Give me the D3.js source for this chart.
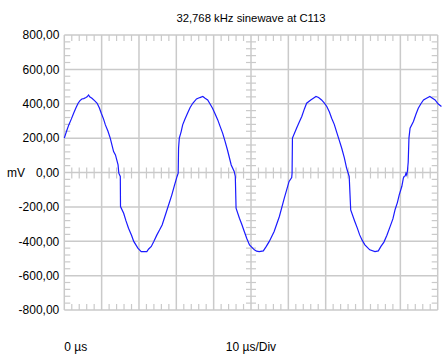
<!DOCTYPE html>
<html>
<head>
<meta charset="utf-8">
<script src="https://cdn.jsdelivr.net/npm/d3@7"></script>
<style>
  body { margin:0; background:#fff; }
  svg text { font-family: "Liberation Sans", Arial, sans-serif; font-size:12px; fill:#000; }
</style>
</head>
<body>
<div id="chart-area"></div>
<script>
// scope trace (time in µs, voltage in mV)
var timeUs = [0,0.6,1.2,1.9,2.5,3.1,3.7,4.2,4.7,5.2,5.8,6.1,6.5,6.8,7.4,8.1,8.8,9.4,9.9,10.5,11,11.7,12.3,13.2,13.7,14.4,14.6,15.0,15.05,15.9,16.5,17.2,18.0,18.6,19.7,20.6,22.1,22.6,23.3,24.0,24.8,25.5,26.2,27.5,28.8,29.5,30.2,30.5,30.6,30.8,31.3,31.7,32.3,33.0,33.7,34.4,35.4,36.3,37.1,37.7,38.4,39.0,39.7,40.4,41.1,41.7,42.4,43.0,43.7,44.7,45.5,45.8,46.0,46.9,47.5,48.2,48.9,49.6,50.9,51.5,52.2,53.3,54.1,54.9,56.2,57.6,58.9,60.2,60.9,61.0,61.1,62.2,62.9,63.6,64.3,64.9,66.0,66.7,67.4,68.1,68.9,69.6,70.3,71.0,71.6,72.3,72.9,73.6,74.3,75.0,75.6,76.3,76.7,77.8,78.5,79.1,79.8,80.5,81.8,83.2,84.1,84.8,85.6,86.4,87.2,88.0,88.6,89.2,89.7,90.4,90.8,91.0,91.3,91.5,91.7,91.9,92.1,92.3,92.6,93.5,94.2,94.8,95.5,96.2,97.0,97.9,98.6,99.3,100.1,101];
var millivolts = [200,240,277,312,345,375,403,418,428,430,436,440,451,440,432,418,403,375,345,312,277,240,200,122,102,44,-4,-23,-198,-237,-280,-324,-365,-401,-440,-460,-460,-445,-430,-400,-363,-335,-305,-218,-130,-75,-23,-4,141,200,238,277,310,345,378,403,428,436,442,432,422,400,374,340,306,270,229,185,131,44,6,-23,-208,-266,-300,-343,-385,-421,-450,-458,-460,-456,-430,-401,-343,-256,-150,-52,-30,-4,200,258,292,326,370,403,422,432,442,436,422,405,384,352,316,280,238,190,141,85,25,-23,-218,-285,-325,-363,-395,-421,-450,-460,-456,-430,-405,-365,-318,-270,-215,-175,-130,-80,-33,-23,-20,-4,-14,10,60,200,258,297,340,374,400,422,432,442,432,422,400,384];

var yTicks = [-800,-600,-400,-200,0,200,400,600,800];
var xDivs = [0,10,20,30,40,50,60,70,80,90,100];
var titleText = "32,768 kHz sinewave at C113";
var unitText = "mV";
var startText = "0 µs";
var divText = "10 µs/Div";

var W = 445, H = 354;
var plotLeft = 64.3, plotRight = 437.7, plotTop = 35, plotBottom = 310;
var gridColor = "#cacaca";

var svg = d3.select("#chart-area").append("svg")
    .attr("width", W).attr("height", H);

var x = d3.scaleLinear().domain([0, 100]).range([plotLeft, plotRight]);
var y = d3.scaleLinear().domain([-800, 800]).range([plotBottom, plotTop]);

var loc = d3.formatLocale({decimal:",", thousands:".", grouping:[3], currency:["",""], minus:"-"});
var fmt = loc.format(".2f");

// minor tick positions (5 per division)
var xMinor = d3.range(0, 100.01, 2).filter(d => d % 10 !== 0);
var yMinor = d3.range(-800, 800.01, 40).filter(d => d % 200 !== 0);

var grid = svg.append("g");

// vertical grid lines
grid.append("g").selectAll("line").data(xDivs).enter().append("line")
    .attr("x1", d => x(d)).attr("x2", d => x(d))
    .attr("y1", plotTop).attr("y2", plotBottom)
    .attr("stroke", gridColor).attr("stroke-width", 1.5);

// horizontal grid lines
grid.append("g").selectAll("line").data(yTicks).enter().append("line")
    .attr("x1", plotLeft).attr("x2", plotRight)
    .attr("y1", d => y(d)).attr("y2", d => y(d))
    .attr("stroke", gridColor).attr("stroke-width", 1.5);

function hTicks(vals, x1, x2) {
  grid.append("g").selectAll("line").data(vals).enter().append("line")
    .attr("x1", x1).attr("x2", x2)
    .attr("y1", d => y(d)).attr("y2", d => y(d))
    .attr("stroke", gridColor).attr("stroke-width", 1.2);
}
function vTicks(vals, y1, y2) {
  grid.append("g").selectAll("line").data(vals).enter().append("line")
    .attr("x1", d => x(d)).attr("x2", d => x(d))
    .attr("y1", y1).attr("y2", y2)
    .attr("stroke", gridColor).attr("stroke-width", 1.2);
}

// minor ticks on frame and on centre lines
vTicks(xMinor, plotTop, plotTop + 6);
vTicks(xMinor, plotBottom - 6, plotBottom);
vTicks(xMinor, y(0) - 5, y(0) + 6);
hTicks(yMinor, plotLeft, plotLeft + 6);
hTicks(yMinor, plotRight - 6, plotRight);
hTicks(yMinor, x(50) - 5, x(50) + 5);

// y labels
var yAxis = d3.axisLeft(y).tickValues(yTicks).tickSize(0).tickPadding(0).tickFormat(fmt);
var yAxisGroup = svg.append("g")
    .attr("transform", "translate(" + (plotLeft - 5) + ",0)")
    .call(yAxis);
yAxisGroup.select(".domain").remove();
yAxisGroup.selectAll("text")
    .style("font-family", "'Liberation Sans', Arial, sans-serif")
    .style("font-size", "12px").attr("fill", "#000");

// trace
var pts = timeUs.map((t, i) => [t, millivolts[i]]);
var line = d3.line().x(d => x(d[0])).y(d => y(d[1]));
svg.append("path")
    .datum(pts)
    .attr("d", line)
    .attr("fill", "none")
    .attr("stroke", "#1a1aff")
    .attr("stroke-width", 1.2);

// texts
svg.append("text")
    .attr("x", x(50)).attr("y", 22)
    .attr("text-anchor", "middle")
    .style("font-size", "11.3px")
    .text(titleText);

svg.append("text")
    .attr("x", 7).attr("y", y(0) + 4)
    .text(unitText);

svg.append("text")
    .attr("x", x(0)).attr("y", 351)
    .text(startText);

svg.append("text")
    .attr("x", x(50)).attr("y", 351)
    .attr("text-anchor", "middle")
    .text(divText);
</script>
</body>
</html>
